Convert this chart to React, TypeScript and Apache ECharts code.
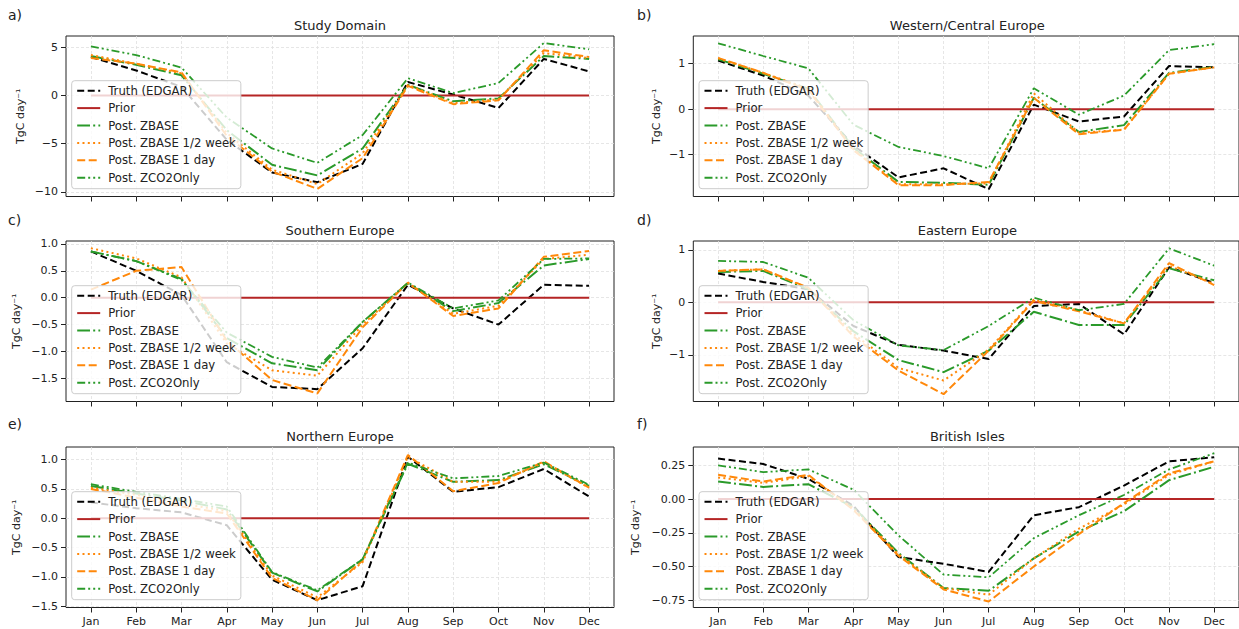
import React, { useEffect, useRef } from "react";
import * as echarts from "echarts";

// ---------- data ----------
const months = ["Jan", "Feb", "Mar", "Apr", "May", "Jun", "Jul", "Aug", "Sep", "Oct", "Nov", "Dec"];
const seriesNames = ["Truth (EDGAR)", "Prior", "Post. ZBASE", "Post. ZBASE 1/2 week", "Post. ZBASE 1 day", "Post. ZCO2Only"];
const panelTitles = ["Study Domain", "Western/Central Europe", "Southern Europe", "Eastern Europe", "Northern Europe", "British Isles"];
const panelLetters = ["a)", "b)", "c)", "d)", "e)", "f)"];

const priorValues = [0, 0, 0, 0, 0, 0, 0, 0, 0, 0, 0, 0];

const studyTruth = [4.0, 2.6, 0.9, -4.6, -8.0, -9.0, -7.1, 1.4, 0.1, -1.3, 3.8, 2.5];
const studyZbase = [4.1, 3.2, 2.1, -3.6, -7.2, -8.3, -5.5, 1.1, -0.6, -0.3, 4.1, 3.8];
const studyHalf = [4.2, 3.3, 2.3, -3.9, -7.7, -9.2, -6.0, 1.1, -0.8, -0.4, 4.4, 3.9];
const studyDay = [3.9, 3.3, 2.4, -4.2, -7.9, -9.7, -6.5, 1.0, -0.9, -0.5, 4.7, 4.0];
const studyCo2 = [5.1, 4.2, 2.9, -2.3, -5.5, -7.0, -4.1, 1.8, 0.25, 1.3, 5.45, 4.8];

const westTruth = [1.07, 0.74, 0.3, -0.8, -1.5, -1.3, -1.76, 0.1, -0.27, -0.16, 0.95, 0.92];
const westZbase = [1.1, 0.78, 0.45, -0.85, -1.6, -1.62, -1.66, 0.25, -0.5, -0.35, 0.8, 0.93];
const westHalf = [1.12, 0.8, 0.45, -0.88, -1.65, -1.65, -1.63, 0.35, -0.52, -0.45, 0.78, 0.92];
const westDay = [1.13, 0.8, 0.42, -0.9, -1.67, -1.67, -1.6, 0.25, -0.55, -0.45, 0.78, 0.92];
const westCo2 = [1.45, 1.17, 0.9, -0.34, -0.83, -1.03, -1.3, 0.46, -0.12, 0.3, 1.3, 1.43];

const southTruth = [0.86, 0.5, 0.05, -1.2, -1.66, -1.7, -0.94, 0.24, -0.2, -0.5, 0.24, 0.22];
const southZbase = [0.86, 0.68, 0.35, -0.75, -1.22, -1.35, -0.45, 0.27, -0.25, -0.1, 0.6, 0.72];
const southHalf = [0.92, 0.73, 0.38, -0.85, -1.35, -1.45, -0.5, 0.27, -0.3, -0.15, 0.72, 0.8];
const southDay = [0.15, 0.5, 0.57, -0.8, -1.53, -1.78, -0.55, 0.28, -0.34, -0.2, 0.76, 0.87];
const southCo2 = [0.86, 0.68, 0.33, -0.65, -1.1, -1.3, -0.45, 0.28, -0.2, -0.05, 0.72, 0.73];

const eastTruth = [0.55, 0.39, 0.25, -0.45, -0.81, -0.92, -1.08, -0.07, -0.03, -0.61, 0.67, 0.37];
const eastZbase = [0.58, 0.6, 0.25, -0.55, -1.1, -1.33, -0.92, -0.18, -0.43, -0.43, 0.65, 0.42];
const eastHalf = [0.6, 0.63, 0.27, -0.6, -1.25, -1.49, -0.9, 0.05, -0.15, -0.4, 0.7, 0.35];
const eastDay = [0.6, 0.63, 0.28, -0.65, -1.3, -1.75, -0.92, 0.03, -0.17, -0.4, 0.75, 0.33];
const eastCo2 = [0.79, 0.77, 0.47, -0.34, -0.82, -0.91, -0.45, 0.09, -0.15, -0.03, 1.03, 0.7];

const northTruth = [0.27, 0.17, 0.1, -0.12, -1.05, -1.4, -1.16, 1.05, 0.45, 0.53, 0.84, 0.37];
const northZbase = [0.55, 0.42, 0.3, 0.15, -0.93, -1.25, -0.7, 0.93, 0.62, 0.65, 0.92, 0.55];
const northHalf = [0.52, 0.4, 0.25, 0.12, -0.98, -1.35, -0.75, 1.05, 0.62, 0.62, 0.95, 0.52];
const northDay = [0.5, 0.35, 0.2, 0.08, -1.02, -1.4, -0.72, 1.08, 0.46, 0.6, 0.97, 0.52];
const northCo2 = [0.58, 0.45, 0.33, 0.2, -0.92, -1.23, -0.7, 0.95, 0.68, 0.72, 0.95, 0.57];

const britTruth = [0.3, 0.26, 0.15, -0.05, -0.43, -0.48, -0.54, -0.12, -0.06, 0.1, 0.28, 0.31];
const britZbase = [0.13, 0.09, 0.11, -0.06, -0.4, -0.66, -0.68, -0.44, -0.24, -0.09, 0.14, 0.24];
const britHalf = [0.16, 0.12, 0.17, -0.07, -0.41, -0.66, -0.71, -0.44, -0.22, -0.04, 0.18, 0.28];
const britDay = [0.18, 0.13, 0.18, -0.08, -0.42, -0.67, -0.76, -0.5, -0.26, -0.03, 0.19, 0.28];
const britCo2 = [0.25, 0.2, 0.22, 0.07, -0.27, -0.56, -0.58, -0.29, -0.12, 0.03, 0.22, 0.34];

const panelData = [
  [studyTruth, priorValues, studyZbase, studyHalf, studyDay, studyCo2],
  [westTruth, priorValues, westZbase, westHalf, westDay, westCo2],
  [southTruth, priorValues, southZbase, southHalf, southDay, southCo2],
  [eastTruth, priorValues, eastZbase, eastHalf, eastDay, eastCo2],
  [northTruth, priorValues, northZbase, northHalf, northDay, northCo2],
  [britTruth, priorValues, britZbase, britHalf, britDay, britCo2],
];

// y-axis ranges and ticks
const yMins = [-10.49, -1.92, -1.93, -1.89, -1.524, -0.804];
const yMaxs = [6.18, 1.61, 1.054, 1.17, 1.215, 0.386];
const ySteps = [5, 1, 0.5, 1, 0.5, 0.25];
const yTicksA = [-10, -5, 0, 5];
const yTicksB = [-1, 0, 1];
const yTicksC = [-1.5, -1.0, -0.5, 0.0, 0.5, 1.0];
const yTicksD = [-1, 0, 1];
const yTicksE = [-1.5, -1.0, -0.5, 0.0, 0.5, 1.0];
const yTicksF = [-0.75, -0.5, -0.25, 0.0, 0.25];
const yTicks = [yTicksA, yTicksB, yTicksC, yTicksD, yTicksE, yTicksF];
const yDecimals = [0, 0, 1, 0, 1, 2];

// ---------- layout & style ----------
const W = 1239;
const H = 629;
const gridLefts = [66, 693.3, 66, 693.3, 66, 693.3];
const gridTops = [36, 36, 241, 241, 447, 447];
const gridW = 548;
const gridH = 160.5;
const yNameX = [20, 656, 16, 656, 16, 635];

const GREEN = "#2a9a2a";
const ORANGE = "#ff880a";
const FONT = "DejaVu Sans";

const lineStyles: any[] = [
  { color: "#000000", type: [7, 3.5], width: 2 },
  { color: "#b52525", type: "solid", width: 2 },
  { color: GREEN, type: [12.8, 3.2, 2, 3.2], width: 2 },
  { color: ORANGE, type: [2, 3.3], width: 2 },
  { color: ORANGE, type: [8, 3.5], width: 2 },
  { color: GREEN, type: [8, 3, 2, 3, 2, 3], width: 1.8 },
];

function fmt(v: number, d: number) {
  const s = Math.abs(v).toFixed(d);
  return v < -1e-9 ? "\u2212" + s : s;
}

const monthIdx = months.map((_, i) => i);

function buildOption() {
  const grid: any[] = [];
  const xAxis: any[] = [];
  const yAxis: any[] = [];
  const series: any[] = [];
  const legend: any[] = [];
  const graphic: any[] = [];

  for (let p = 0; p < 6; p++) {
    grid.push({
      left: gridLefts[p],
      top: gridTops[p],
      width: gridW,
      height: gridH,
      show: true,
      borderColor: "#222",
      borderWidth: 1,
      backgroundColor: "transparent",
      containLabel: false,
    });
    xAxis.push({
      type: "value",
      gridIndex: p,
      min: -0.55,
      max: 11.55,
      interval: 1,
      axisLine: { show: false, onZero: false },
      axisTick: { show: true, customValues: monthIdx, length: 5, lineStyle: { color: "#222", width: 1 } },
      axisLabel: {
        show: p >= 4,
        customValues: monthIdx,
        formatter: (v: number) => months[Math.round(v)] ?? "",
        fontSize: 11,
        color: "#222",
        margin: 8,
        fontFamily: FONT,
      },
      splitLine: { show: true, lineStyle: { color: "#e0e0e0", width: 0.8, type: [3, 2] } },
    });
    const d = yDecimals[p];
    yAxis.push({
      type: "value",
      gridIndex: p,
      min: yMins[p],
      max: yMaxs[p],
      interval: ySteps[p],
      axisLine: { show: false, onZero: false },
      axisTick: { show: true, customValues: yTicks[p], length: 5, lineStyle: { color: "#222", width: 1 } },
      axisLabel: {
        customValues: yTicks[p],
        formatter: (v: number) => fmt(v, d),
        fontSize: 11,
        color: "#222",
        margin: 8,
        fontFamily: FONT,
      },
      splitLine: { show: true, lineStyle: { color: "#e0e0e0", width: 0.8, type: [3, 2] } },
    });
    panelData[p].forEach((vals, s) => {
      const ls = lineStyles[s];
      series.push({
        type: "line",
        name: seriesNames[s],
        xAxisIndex: p,
        yAxisIndex: p,
        data: vals.map((v, i) => [i, v]),
        symbol: "none",
        showSymbol: false,
        silent: true,
        color: ls.color,
        itemStyle: { color: ls.color },
        lineStyle: { color: ls.color, type: ls.type, width: ls.width, cap: "butt" },
        emphasis: { disabled: true },
      });
    });
    legend.push({
      orient: "vertical",
      left: gridLefts[p] + 5.7,
      top: gridTops[p] + 44.7,
      data: seriesNames,
      itemWidth: 23,
      itemHeight: 14,
      itemGap: 5.4,
      padding: [4, 5, 5, 4.5],
      backgroundColor: "rgba(255,255,255,0.8)",
      borderColor: "#cccccc",
      borderWidth: 1,
      borderRadius: 3,
      selectedMode: false,
      itemStyle: { opacity: 0 },
      textStyle: { fontSize: 11.7, color: "#222", fontFamily: FONT, padding: [0, 0, 0, 3] },
    });
    graphic.push({
      type: "text",
      x: gridLefts[p] + gridW / 2,
      y: gridTops[p] - 11,
      style: { text: panelTitles[p], fontSize: 13, fontFamily: FONT, fill: "#222", align: "center", verticalAlign: "middle" },
    });
    graphic.push({
      type: "text",
      x: p % 2 === 0 ? 8 : 637,
      y: [15, 15, 220, 220, 424, 424][p],
      style: { text: panelLetters[p], fontSize: 14, fontFamily: FONT, fill: "#222", align: "left", verticalAlign: "middle" },
    });
    graphic.push({
      type: "text",
      x: yNameX[p],
      y: gridTops[p] + gridH / 2,
      rotation: Math.PI / 2,
      style: { text: "TgC day\u207B\u00B9", fontSize: 11, fontFamily: FONT, fill: "#222", align: "center", verticalAlign: "middle" },
    });
  }

  return {
    animation: false,
    backgroundColor: "#ffffff",
    textStyle: { fontFamily: FONT },
    grid,
    xAxis,
    yAxis,
    series,
    legend,
    graphic,
  };
}

export default function App() {
  const ref = useRef<HTMLDivElement>(null);
  useEffect(() => {
    if (!ref.current) return;
    const chart = echarts.init(ref.current, undefined, { renderer: "svg", width: W, height: H });
    chart.setOption(buildOption() as any);
    return () => chart.dispose();
  }, []);
  return <div ref={ref} style={{ position: "fixed", left: 0, top: 0, width: W, height: H }} />;
}
